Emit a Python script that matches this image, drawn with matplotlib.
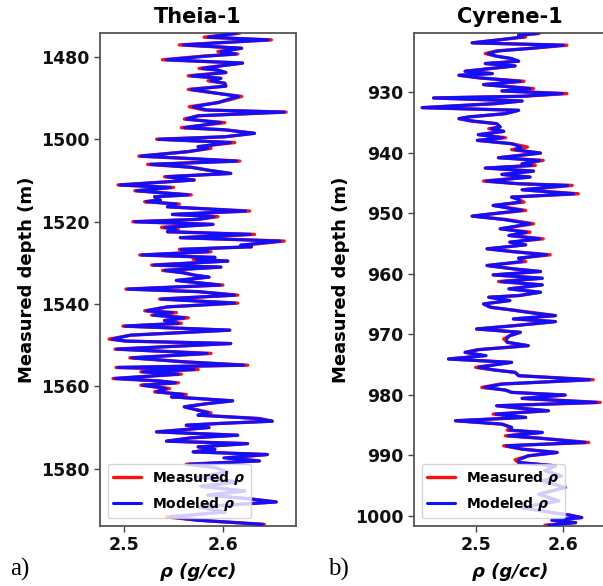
import matplotlib
matplotlib.use("Agg")
import matplotlib.pyplot as plt

plt.rcParams['font.family'] = ['DejaVu Sans']
plt.rcParams['mathtext.fontset'] = 'custom'
plt.rcParams['mathtext.it'] = 'DejaVu Sans:italic:bold'
plt.rcParams['mathtext.rm'] = 'DejaVu Sans:bold'
plt.rcParams['mathtext.bf'] = 'DejaVu Sans:bold'

# ---------------- data: Theia-1 ----------------
theia_depth = [
    1473.5, 1474.25, 1475.22, 1475.87, 1477.09, 1477.9, 1478.7, 1479.3, 1479.8, 1480.7,
    1481.5, 1482.8, 1483.2, 1483.8, 1484.6, 1485.2, 1485.8, 1486.4, 1487.1, 1487.9,
    1488.8, 1489.6, 1490.4, 1491.1, 1492.1, 1492.9, 1493.4, 1494.3, 1495.1, 1495.96,
    1497.2, 1497.7, 1498.55, 1499.4, 1500.0, 1500.8, 1501.8, 1502.2, 1503.0, 1504.1,
    1504.6, 1505.3, 1506.1, 1506.8, 1507.5, 1508.3, 1509.1, 1509.9, 1511.1, 1511.7,
    1512.5, 1513.5,
    1513.95, 1514.76, 1515.16, 1515.73, 1516.4, 1517.43, 1518.24, 1518.8, 1519.45, 1520.02,
    1520.67, 1521.4, 1521.9, 1522.45, 1523.1, 1523.9, 1524.72, 1525.7, 1526.1, 1526.74,
    1527.3, 1528.1, 1528.69, 1529.1, 1529.58, 1530.55, 1531.04, 1531.85, 1532.4, 1532.98,
    1533.47, 1534.28, 1534.84, 1535.4, 1536.38, 1537.0, 1537.84, 1538.8, 1539.78, 1540.7,
    1541.65, 1542.1, 1542.7, 1543.35, 1544.0, 1544.7, 1545.37, 1546.35, 1547.56, 1548.53,
    1549.0, 1549.6, 1550.96, 1552.0, 1553.07, 1554.04,
    1554.85, 1555.41, 1555.9, 1556.47, 1557.03, 1558.09, 1558.65, 1559.14, 1559.71, 1560.52,
    1561.33, 1561.97, 1562.54, 1563.51, 1564.16, 1564.97, 1566.43, 1566.99, 1567.8, 1568.45,
    1569.02, 1569.43, 1569.99, 1571.05, 1571.86, 1572.5, 1573.3, 1573.9, 1574.7, 1575.3,
    1575.9, 1576.55, 1577.36, 1578.1, 1578.9, 1579.7, 1580.8, 1582.0, 1583.2, 1584.25,
    1585.4, 1586.4, 1587.25, 1588.06, 1589.27, 1590.5, 1591.7, 1592.5, 1593.5, 1594.5,
]
theia_measured = [
    2.612, 2.617, 2.581, 2.649, 2.556, 2.619, 2.595, 2.615, 2.581, 2.539,
    2.620, 2.576, 2.595, 2.603, 2.565, 2.598, 2.585, 2.602, 2.603, 2.565,
    2.593, 2.619, 2.607, 2.595, 2.566, 2.581, 2.664, 2.575, 2.561, 2.602,
    2.558, 2.602, 2.632, 2.602, 2.533, 2.612, 2.575, 2.588, 2.565, 2.515,
    2.558, 2.617, 2.524, 2.568, 2.585, 2.608, 2.541, 2.571, 2.494, 2.550,
    2.511, 2.568,
    2.531, 2.534, 2.521, 2.556, 2.544, 2.627, 2.549, 2.595, 2.575, 2.509,
    2.590, 2.538, 2.555, 2.544, 2.632, 2.557, 2.662, 2.622, 2.629, 2.556,
    2.588, 2.516, 2.592, 2.570, 2.605, 2.528, 2.598, 2.539, 2.561, 2.571,
    2.586, 2.553, 2.575, 2.600, 2.502, 2.575, 2.615, 2.536, 2.615, 2.544,
    2.521, 2.553, 2.528, 2.565, 2.541, 2.558, 2.499, 2.607, 2.507, 2.485,
    2.501, 2.608, 2.491, 2.588, 2.506, 2.561,
    2.625, 2.492, 2.575, 2.517, 2.558, 2.489, 2.533, 2.555, 2.517, 2.546,
    2.531, 2.563, 2.548, 2.610, 2.585, 2.561, 2.588, 2.575, 2.637, 2.650,
    2.595, 2.563, 2.586, 2.533, 2.615, 2.568, 2.543, 2.625, 2.575, 2.592,
    2.570, 2.645, 2.605, 2.637, 2.563, 2.592, 2.605, 2.575, 2.615, 2.578,
    2.622, 2.585, 2.625, 2.654, 2.575, 2.602, 2.543, 2.575, 2.642, 2.632,
]
theia_modeled = [
    2.612, 2.614, 2.585, 2.646, 2.560, 2.619, 2.598, 2.613, 2.584, 2.543,
    2.620, 2.579, 2.595, 2.603, 2.568, 2.598, 2.588, 2.602, 2.603, 2.568,
    2.593, 2.616, 2.604, 2.595, 2.570, 2.584, 2.662, 2.575, 2.563, 2.598,
    2.561, 2.602, 2.632, 2.602, 2.535, 2.608, 2.575, 2.585, 2.565, 2.517,
    2.561, 2.614, 2.527, 2.568, 2.585, 2.608, 2.543, 2.571, 2.496, 2.547,
    2.513, 2.565,
    2.531, 2.537, 2.523, 2.553, 2.544, 2.623, 2.549, 2.591, 2.575, 2.511,
    2.590, 2.541, 2.552, 2.544, 2.628, 2.557, 2.658, 2.618, 2.629, 2.558,
    2.585, 2.518, 2.592, 2.573, 2.605, 2.530, 2.598, 2.541, 2.559, 2.571,
    2.586, 2.553, 2.575, 2.597, 2.504, 2.575, 2.612, 2.538, 2.612, 2.544,
    2.523, 2.549, 2.530, 2.561, 2.541, 2.555, 2.501, 2.607, 2.507, 2.488,
    2.503, 2.608, 2.493, 2.584, 2.508, 2.561,
    2.621, 2.494, 2.571, 2.519, 2.555, 2.491, 2.535, 2.552, 2.519, 2.543,
    2.533, 2.560, 2.548, 2.610, 2.585, 2.561, 2.585, 2.575, 2.635, 2.650,
    2.595, 2.563, 2.586, 2.533, 2.615, 2.568, 2.543, 2.625, 2.575, 2.592,
    2.570, 2.645, 2.601, 2.637, 2.566, 2.592, 2.605, 2.575, 2.615, 2.578,
    2.622, 2.585, 2.625, 2.654, 2.575, 2.602, 2.547, 2.575, 2.640, 2.632,
]

# ---------------- data: Cyrene-1 ----------------
cyrene_depth = [
    919.9, 920.29, 920.56, 920.84, 921.28, 921.83, 922.22, 922.77, 923.16, 923.6,
    924.04, 924.43, 924.87, 925.25, 925.64, 926.08, 926.52, 926.91, 927.19, 927.63,
    928.18, 928.73, 929.39, 929.78, 930.22, 930.66, 930.94, 931.44, 931.88, 932.54,
    932.98, 933.53, 934.08, 934.36, 934.75, 935.19, 935.74, 936.02, 936.46, 937.01,
    937.51, 937.95, 938.5, 939.05, 939.49, 940.05, 940.82, 941.26, 941.81, 942.09,
    942.53, 943.03, 943.58, 944.02, 944.68, 945.12, 945.4, 946.12, 946.78, 947.33,
    947.71, 948.15, 948.71, 949.53, 950.09, 950.47, 951.02, 951.74, 952.57, 953.12,
    953.67, 954.22, 954.78, 955.22, 955.88, 956.32, 956.87, 957.43, 957.98, 958.64,
    959.19, 959.63, 960.19, 960.74, 961.29, 961.84, 962.5, 963.06, 963.61, 963.88,
    964.43, 964.99, 965.54, 965.98, 966.48, 966.92, 967.47, 967.91, 968.57, 969.13,
    969.68, 970.23, 970.78, 971.33, 971.89, 972.55, 972.99, 973.54, 974.09, 974.65,
    975.47, 975.92, 976.3, 976.85, 977.52, 978.23, 978.79, 979.23, 979.61, 980.05,
    980.61, 981.27, 981.82, 982.26, 982.65, 983.2, 983.75, 984.3, 984.86, 985.41,
    985.85, 986.24, 986.79, 987.17, 987.89, 988.44, 988.99, 989.55, 990.1, 990.76,
    991.2, 991.75, 992.58, 993.41, 994.24, 995.34, 996.45, 997.55, 998.65, 999.48,
    999.87, 1000.31, 1000.75, 1001.14, 1001.58, 1001.97, 1002.5,
]
cyrene_measured = [
    2.575, 2.572, 2.549, 2.557, 2.530, 2.496, 2.604, 2.560, 2.524, 2.511,
    2.524, 2.541, 2.549, 2.511, 2.545, 2.517, 2.488, 2.519, 2.481, 2.505,
    2.555, 2.509, 2.566, 2.530, 2.604, 2.553, 2.452, 2.553, 2.522, 2.439,
    2.549, 2.534, 2.492, 2.481, 2.494, 2.524, 2.528, 2.515, 2.532, 2.503,
    2.534, 2.502, 2.541, 2.559, 2.541, 2.574, 2.526, 2.577, 2.553, 2.568,
    2.511, 2.566, 2.530, 2.562, 2.509, 2.549, 2.610, 2.553, 2.617, 2.541,
    2.549, 2.555, 2.520, 2.557, 2.519, 2.496, 2.534, 2.566, 2.528, 2.562,
    2.538, 2.577, 2.539, 2.557, 2.513, 2.541, 2.585, 2.549, 2.557, 2.513,
    2.543, 2.574, 2.520, 2.576, 2.526, 2.576, 2.538, 2.574, 2.549, 2.515,
    2.539, 2.509, 2.517, 2.541, 2.568, 2.591, 2.543, 2.591, 2.545, 2.501,
    2.551, 2.539, 2.532, 2.536, 2.560, 2.503, 2.488, 2.509, 2.469, 2.541,
    2.500, 2.522, 2.545, 2.549, 2.634, 2.528, 2.507, 2.534, 2.541, 2.602,
    2.553, 2.642, 2.524, 2.553, 2.583, 2.520, 2.557, 2.477, 2.530, 2.541,
    2.536, 2.576, 2.534, 2.572, 2.629, 2.532, 2.553, 2.593, 2.560, 2.545,
    2.549, 2.591, 2.579, 2.598, 2.576, 2.602, 2.572, 2.595, 2.553, 2.587,
    2.606, 2.621, 2.587, 2.614, 2.579, 2.591, 2.600,
]
cyrene_modeled = [
    2.575, 2.569, 2.549, 2.554, 2.530, 2.496, 2.600, 2.560, 2.526, 2.514,
    2.524, 2.541, 2.549, 2.511, 2.545, 2.517, 2.488, 2.519, 2.481, 2.505,
    2.551, 2.509, 2.562, 2.530, 2.599, 2.553, 2.452, 2.553, 2.522, 2.439,
    2.549, 2.534, 2.492, 2.481, 2.497, 2.524, 2.528, 2.518, 2.532, 2.503,
    2.531, 2.502, 2.541, 2.552, 2.545, 2.574, 2.526, 2.573, 2.553, 2.564,
    2.511, 2.566, 2.530, 2.562, 2.512, 2.549, 2.605, 2.553, 2.612, 2.541,
    2.549, 2.551, 2.520, 2.553, 2.519, 2.496, 2.531, 2.562, 2.528, 2.558,
    2.538, 2.573, 2.539, 2.557, 2.513, 2.541, 2.581, 2.549, 2.553, 2.513,
    2.543, 2.574, 2.520, 2.576, 2.529, 2.576, 2.538, 2.574, 2.549, 2.515,
    2.539, 2.509, 2.517, 2.541, 2.564, 2.591, 2.543, 2.591, 2.545, 2.501,
    2.551, 2.539, 2.535, 2.536, 2.560, 2.503, 2.488, 2.512, 2.469, 2.541,
    2.503, 2.522, 2.545, 2.549, 2.630, 2.531, 2.510, 2.534, 2.541, 2.602,
    2.553, 2.638, 2.524, 2.553, 2.583, 2.523, 2.557, 2.477, 2.530, 2.541,
    2.539, 2.576, 2.537, 2.572, 2.625, 2.535, 2.553, 2.593, 2.560, 2.549,
    2.549, 2.591, 2.579, 2.598, 2.576, 2.602, 2.572, 2.595, 2.553, 2.587,
    2.606, 2.621, 2.587, 2.614, 2.583, 2.591, 2.600,
]

titles = ["Theia-1", "Cyrene-1"]
panel_labels = ["a)", "b)"]
theia_yticks = [1480, 1500, 1520, 1540, 1560, 1580]
cyrene_yticks = [930, 940, 950, 960, 970, 980, 990, 1000]
xticks = [2.5, 2.6]

# ---------------- figure ----------------
W, H = 603, 586
fig = plt.figure(figsize=(W / 100, H / 100), dpi=100)

def box(l, t, r, b):
    return [l / W, 1 - b / H, (r - l) / W, (b - t) / H]

ax1 = fig.add_axes(box(100, 33, 296, 526))
ax2 = fig.add_axes(box(414, 33, 606, 526))

panels = [
    (ax1, theia_depth, theia_measured, theia_modeled, theia_yticks, (2.4758, 2.674), (1593.9, 1474.2)),
    (ax2, cyrene_depth, cyrene_measured, cyrene_modeled, cyrene_yticks, (2.4297, 2.6487), (1001.7, 920.2)),
]

for i, (ax, d, m, mo, yt, xl, yl) in enumerate(panels):
    ax.plot(m, d, color='#ff1010', lw=2.4, label=r'Measured $\rho$', zorder=2,
            solid_joinstyle='round', solid_capstyle='round')
    ax.plot(mo, d, color='#1010ff', lw=2.2, label=r'Modeled $\rho$', zorder=3,
            solid_joinstyle='round', solid_capstyle='round')
    ax.set_xlim(*xl)
    ax.set_ylim(*yl)
    ax.set_xticks(xticks)
    ax.set_xticklabels([f"{v:.1f}" for v in xticks])
    ax.set_yticks(yt)
    for lab in ax.get_xticklabels() + ax.get_yticklabels():
        lab.set_fontweight('bold')
        lab.set_fontsize(12.5)
        lab.set_color('#111111')
    ax.tick_params(length=4, width=1.0, color='#444444')
    for s in ax.spines.values():
        s.set_color('#555555')
        s.set_linewidth(1.3)
    ax.set_title(titles[i], fontsize=15, fontweight='bold', pad=7)
    ax.set_ylabel('Measured depth (m)', fontsize=13, fontweight='bold')
    ax.set_xlabel('ρ (g/cc)', fontsize=13, fontweight='bold', fontstyle='italic', labelpad=6)
    leg = ax.legend(loc='lower left', prop={'weight': 'bold', 'size': 10},
                    handlelength=2.0, framealpha=0.8, borderaxespad=0.55,
                    labelspacing=0.55)
    leg.get_frame().set_edgecolor('#cccccc')

fig.text(10 / W, 1 - 569 / H, panel_labels[0], fontsize=18, family='Liberation Serif', va='center', ha='left')
fig.text(328 / W, 1 - 569 / H, panel_labels[1], fontsize=18, family='Liberation Serif', va='center', ha='left')

fig.savefig('out.png', dpi=100)
